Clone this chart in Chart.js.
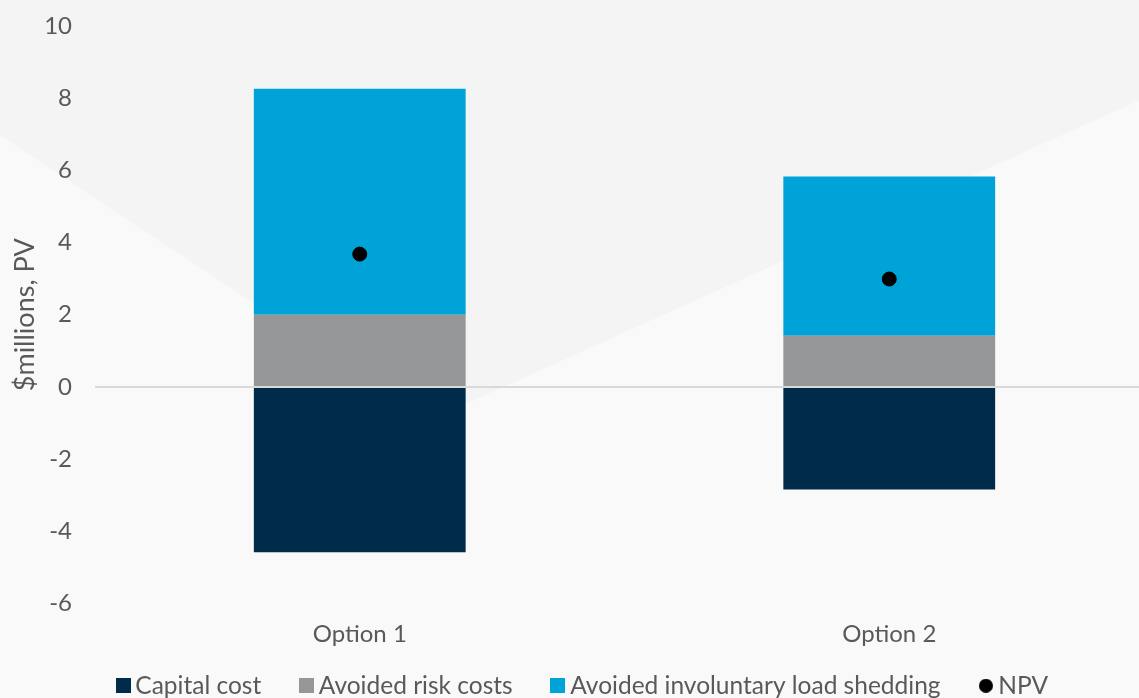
<!DOCTYPE html>
<html>
<head>
<meta charset="utf-8">
<script src="https://cdn.jsdelivr.net/npm/chart.js@4.4.1/dist/chart.umd.min.js"></script>
<style>
  html, body { margin: 0; padding: 0; overflow: hidden; background: #f8f8f8; }
  #chart { display: block; }
</style>
</head>
<body>
<canvas id="chart" width="1162" height="708"></canvas>
<script>
const options = ["Option 1", "Option 2"];
const capitalCost = [-4.58, -2.84];
const avoidedRisk = [2.0, 1.42];
const avoidedLoadShedding = [6.26, 4.41];
const npv = [3.68, 2.99];
const yTicks = [-6, -4, -2, 0, 2, 4, 6, 8, 10];

const colors = {
  capital: "#002b49",
  risk: "#959698",
  shedding: "#00a3d8",
  npv: "#000000",
  text: "#595959",
};

// small canvases used as legend markers
function swatch(color, round) {
  const size = round ? 14 : 15;
  const c = document.createElement("canvas");
  c.width = size;
  c.height = size;
  const g = c.getContext("2d");
  g.fillStyle = color;
  if (round) {
    g.beginPath();
    g.arc(size / 2, size / 2, size / 2, 0, Math.PI * 2);
    g.fill();
  } else {
    g.fillRect(0, 0, size, size);
  }
  return c;
}
const legendMarks = [
  swatch(colors.capital),
  swatch(colors.risk),
  swatch(colors.shedding),
  swatch(colors.npv, true),
];

// soft two-tone backdrop behind the plot
const backdrop = {
  id: "backdrop",
  beforeDraw(chart) {
    const c = chart.ctx;
    c.save();
    c.fillStyle = "#f9f9f9";
    c.fillRect(0, 0, chart.width, chart.height);
    c.fillStyle = "#f4f4f4";
    c.beginPath();
    c.moveTo(0, 0);
    c.lineTo(chart.width, 0);
    c.lineTo(chart.width, 90);
    c.lineTo(430, 420);
    c.lineTo(0, 135);
    c.closePath();
    c.fill();
    c.restore();
  },
};

const font = (size) => ({ family: "Lato", size: size });
const gap = "     ";

const ctx = document.getElementById("chart").getContext("2d");
new Chart(ctx, {
  type: "bar",
  data: {
    labels: options,
    datasets: [
      { label: "Capital cost", data: capitalCost, backgroundColor: colors.capital, order: 1 },
      { label: "Avoided risk costs", data: avoidedRisk, backgroundColor: colors.risk, order: 1 },
      { label: "Avoided involuntary load shedding", data: avoidedLoadShedding, backgroundColor: colors.shedding, order: 1 },
      {
        type: "line",
        label: "NPV",
        data: npv,
        showLine: false,
        pointStyle: "circle",
        pointRadius: 7,
        pointHoverRadius: 7,
        backgroundColor: colors.npv,
        borderColor: colors.npv,
        order: 0,
      },
    ],
  },
  options: {
    responsive: false,
    devicePixelRatio: 1,
    animation: false,
    layout: { padding: { top: 0, left: 9, right: 0, bottom: 0 } },
    datasets: { bar: { barPercentage: 0.4, categoryPercentage: 1.0 } },
    scales: {
      x: {
        stacked: true,
        afterFit: (scale) => { scale.height = 56; },
        grid: { display: false },
        border: { display: false },
        ticks: { color: colors.text, font: font(24), padding: 8 },
      },
      y: {
        stacked: true,
        min: -6,
        max: 10,
        afterBuildTicks: (scale) => { scale.ticks = yTicks.map((v) => ({ value: v })); },
        afterFit: (scale) => {
          scale.width = 86;
          scale.paddingTop = 26;
          scale.paddingBottom = 0;
        },
        grid: {
          z: 1,
          drawTicks: false,
          lineWidth: 2,
          color: (c) => (c.tick && c.tick.value === 0 ? "#d9d9d9" : "rgba(0,0,0,0)"),
        },
        border: { display: false },
        ticks: { color: colors.text, font: font(24), padding: 23 },
        title: {
          display: true,
          text: "$millions, PV",
          color: colors.text,
          font: font(27),
          padding: { top: 0, bottom: 0 },
        },
      },
    },
    plugins: {
      legend: {
        position: "bottom",
        labels: {
          usePointStyle: true,
          boxWidth: 0.01,
          boxHeight: 15,
          padding: 14,
          color: colors.text,
          font: font(24.5),
          sort: (a, b) => a.datasetIndex - b.datasetIndex,
          generateLabels: (chart) =>
            Chart.defaults.plugins.legend.labels.generateLabels(chart).map((item) => ({
              ...item,
              text: item.datasetIndex < 3 ? item.text + gap : item.text,
              pointStyle: legendMarks[item.datasetIndex],
            })),
        },
      },
      tooltip: { enabled: false },
    },
  },
  plugins: [backdrop],
});
</script>
</body>
</html>
